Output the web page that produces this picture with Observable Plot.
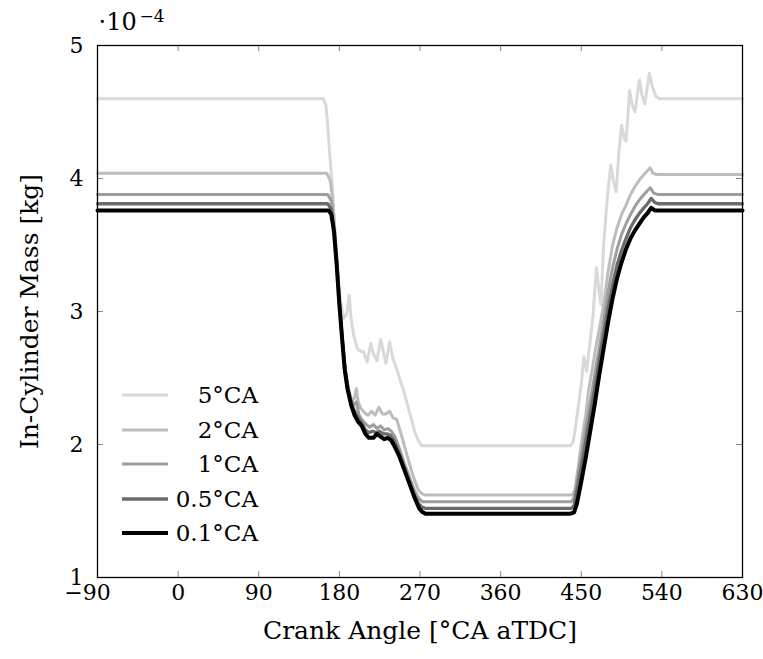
<!DOCTYPE html>
<html>
<head>
<meta charset="utf-8">
<script src="https://cdn.jsdelivr.net/npm/d3@7"></script>
<script src="https://cdn.jsdelivr.net/npm/@observablehq/plot@0.6"></script>
<style>
  html, body { margin: 0; padding: 0; background: #fff; }
  #wrap { position: relative; width: 763px; height: 659px; font-family: "DejaVu Serif", serif; }
  #wrap svg text { font-family: "DejaVu Serif", serif; }
  #legend { position: absolute; left: 122px; top: 378px; }
  .row { display: flex; align-items: center; height: 34.5px; }
  .row span { display: inline-block; width: 90px; text-align: right; font-size: 23px; color: #000; font-family: "DejaVu Serif", serif; }
</style>
</head>
<body>
<div id="wrap"></div>
<script>
// ---- data (crank angle °CA aTDC, in-cylinder mass ×1e-4 kg) ----
const seriesNames = ["5°CA", "2°CA", "1°CA", "0.5°CA", "0.1°CA"];
const seriesColors = ["#d9d9d9", "#bdbdbd", "#9e9e9e", "#6b6b6b", "#000000"];
const seriesWidths = [3, 3, 3, 3.3, 4];

const s5 = [[-90,4.6],[162,4.6],[165,4.55],[167,4.4],[169,4.2],[172,3.95],[175,3.6],[178,3.3],[181,3.08],[185,2.95],[188,2.98],[191,3.12],[193,2.95],[196,2.82],[200,2.72],[204,2.7],[207,2.7],[211,2.62],[215,2.76],[218,2.68],[222,2.63],[226,2.79],[229,2.7],[232,2.61],[236,2.77],[240,2.64],[244,2.57],[248,2.48],[252,2.4],[256,2.3],[260,2.2],[264,2.1],[268,2.03],[272,1.99],[276,1.99],[438,1.99],[441,2.02],[444,2.15],[447,2.3],[450,2.45],[453,2.66],[456,2.55],[459,2.72],[463,2.96],[467,3.33],[470,3.15],[472,3.05],[475,3.5],[479,3.85],[483,4.1],[486,3.98],[489,3.9],[492,4.2],[495,4.4],[498,4.3],[500,4.28],[504,4.66],[507,4.55],[510,4.5],[513,4.65],[515,4.74],[518,4.62],[521,4.56],[524,4.7],[526,4.79],[529,4.7],[533,4.62],[537,4.6],[630,4.6]];

const s2 = [[-90,4.04],[166,4.04],[170,3.98],[173,3.8],[176,3.5],[179,3.2],[182,2.9],[185,2.65],[188,2.5],[191,2.4],[194,2.33],[197,2.35],[199,2.42],[201,2.32],[204,2.27],[208,2.24],[212,2.22],[216,2.25],[220,2.22],[224,2.28],[228,2.23],[232,2.23],[236,2.25],[240,2.2],[244,2.19],[248,2.1],[253,1.98],[258,1.86],[263,1.75],[268,1.66],[272,1.63],[276,1.62],[440,1.62],[443,1.66],[447,1.85],[451,2.05],[455,2.22],[458,2.4],[462,2.55],[466,2.72],[470,2.86],[475,3.05],[480,3.3],[485,3.5],[490,3.63],[495,3.73],[500,3.8],[505,3.88],[510,3.94],[515,3.99],[520,4.03],[524,4.06],[527,4.08],[530,4.04],[534,4.03],[630,4.03]];

const s1 = [[-90,3.88],[167,3.88],[171,3.83],[174,3.65],[177,3.4],[180,3.1],[183,2.82],[186,2.6],[189,2.45],[192,2.35],[196,2.3],[199,2.32],[202,2.22],[206,2.18],[210,2.15],[214,2.13],[218,2.15],[222,2.12],[226,2.14],[230,2.11],[234,2.12],[238,2.1],[242,2.06],[247,1.97],[252,1.87],[258,1.76],[264,1.65],[269,1.59],[273,1.57],[276,1.57],[439,1.57],[442,1.6],[446,1.75],[450,1.92],[455,2.12],[460,2.32],[465,2.52],[470,2.72],[475,2.93],[480,3.15],[485,3.33],[490,3.47],[495,3.58],[500,3.66],[505,3.73],[510,3.79],[515,3.84],[520,3.88],[524,3.91],[527,3.93],[531,3.89],[535,3.88],[630,3.88]];

const s05 = [[-90,3.81],[167,3.81],[171,3.77],[174,3.6],[177,3.36],[180,3.07],[183,2.8],[186,2.58],[189,2.44],[193,2.32],[197,2.25],[201,2.2],[205,2.16],[209,2.11],[213,2.09],[217,2.1],[221,2.09],[225,2.1],[229,2.08],[233,2.08],[237,2.07],[241,2.03],[246,1.95],[251,1.85],[257,1.74],[263,1.63],[268,1.56],[272,1.53],[276,1.52],[439,1.52],[442,1.54],[446,1.68],[450,1.83],[455,2.02],[460,2.22],[465,2.42],[470,2.63],[475,2.83],[480,3.03],[485,3.2],[490,3.35],[495,3.46],[500,3.55],[505,3.63],[510,3.69],[515,3.74],[520,3.78],[524,3.81],[528,3.85],[532,3.82],[536,3.81],[630,3.81]];

const s01 = [[-90,3.76],[168,3.76],[171,3.73],[174,3.6],[177,3.35],[180,3.05],[183,2.8],[186,2.56],[189,2.42],[193,2.3],[197,2.22],[201,2.17],[205,2.14],[209,2.08],[213,2.05],[218,2.05],[222,2.08],[226,2.06],[230,2.04],[234,2.05],[238,2.03],[242,1.98],[247,1.91],[252,1.82],[258,1.71],[264,1.6],[269,1.52],[273,1.49],[276,1.48],[438,1.48],[442,1.49],[445,1.55],[450,1.72],[455,1.9],[460,2.1],[465,2.3],[470,2.52],[475,2.72],[480,2.92],[485,3.1],[490,3.25],[495,3.37],[500,3.47],[505,3.55],[510,3.61],[515,3.66],[520,3.71],[524,3.74],[528,3.78],[532,3.76],[536,3.76],[630,3.76]];

const seriesData = [s5, s2, s1, s05, s01];
const xTicks = [-90, 0, 90, 180, 270, 360, 450, 540, 630];
const yTicks = [1, 2, 3, 4, 5];

const W = 763, H = 659, mL = 97, mR = 21, mT = 45, mB = 82;
const innerW = W - mL - mR, innerH = H - mT - mB;
const tickLen = 6;
const fmtX = d => d < 0 ? "−" + Math.abs(d) : String(d);

const lineMarks = seriesData.map((pts, i) =>
  Plot.line(pts, {x: d => d[0], y: d => d[1], stroke: seriesColors[i], strokeWidth: seriesWidths[i], strokeLinejoin: "round", strokeLinecap: "round"})
);

const chart = Plot.plot({
  width: W, height: H,
  marginLeft: mL, marginRight: mR, marginTop: mT, marginBottom: mB,
  style: {fontFamily: "DejaVu Serif, serif", fontSize: "22px", background: "white", color: "black"},
  x: {domain: [-90, 630]},
  y: {domain: [1, 5]},
  marks: [
    Plot.tickX(xTicks, {x: d => d, insetTop: innerH - tickLen, stroke: "#888", strokeWidth: 1}),
    Plot.tickX(xTicks, {x: d => d, insetBottom: innerH - tickLen, stroke: "#888", strokeWidth: 1}),
    Plot.tickY(yTicks, {y: d => d, insetRight: innerW - tickLen, stroke: "#888", strokeWidth: 1}),
    Plot.tickY(yTicks, {y: d => d, insetLeft: innerW - tickLen, stroke: "#888", strokeWidth: 1}),
    ...lineMarks,
    Plot.axisX(xTicks.filter(d => d >= 0), {anchor: "bottom", tickSize: 0, tickPadding: 7, label: null, fontSize: 22, tickFormat: fmtX}),
    Plot.axisX(xTicks.filter(d => d < 0), {anchor: "bottom", tickSize: 0, tickPadding: 7, label: null, fontSize: 22, dx: -10, tickFormat: fmtX}),
    Plot.axisY(yTicks, {anchor: "left", tickSize: 0, tickPadding: 14, label: null, fontSize: 22, tickFormat: d => String(d)}),
    Plot.frame({stroke: "black", strokeWidth: 1.3}),
    Plot.text(["Crank Angle [°CA aTDC]"], {frameAnchor: "bottom", dy: 61, text: d => d, fontSize: 25}),
    Plot.text(["In-Cylinder Mass [kg]"], {frameAnchor: "left", dx: -68, rotate: -90, textAnchor: "middle", lineAnchor: "middle", text: d => d, fontSize: 25}),
    Plot.text(["·10"], {frameAnchor: "top-left", dx: 1, dy: -33, textAnchor: "start", text: d => d, fontSize: 24}),
    Plot.text(["−4"], {frameAnchor: "top-left", dx: 42, dy: -36, textAnchor: "start", text: d => d, fontSize: 17})
  ]
});

const wrap = document.getElementById("wrap");
wrap.appendChild(chart);

const legend = document.createElement("div");
legend.id = "legend";
seriesNames.forEach((name, i) => {
  const row = document.createElement("div");
  row.className = "row";
  row.innerHTML = `<svg width="46" height="10"><line x1="0" x2="46" y1="5" y2="5" stroke="${seriesColors[i]}" stroke-width="${seriesWidths[i]}"/></svg><span>${name}</span>`;
  legend.appendChild(row);
});
wrap.appendChild(legend);
</script>
</body>
</html>
